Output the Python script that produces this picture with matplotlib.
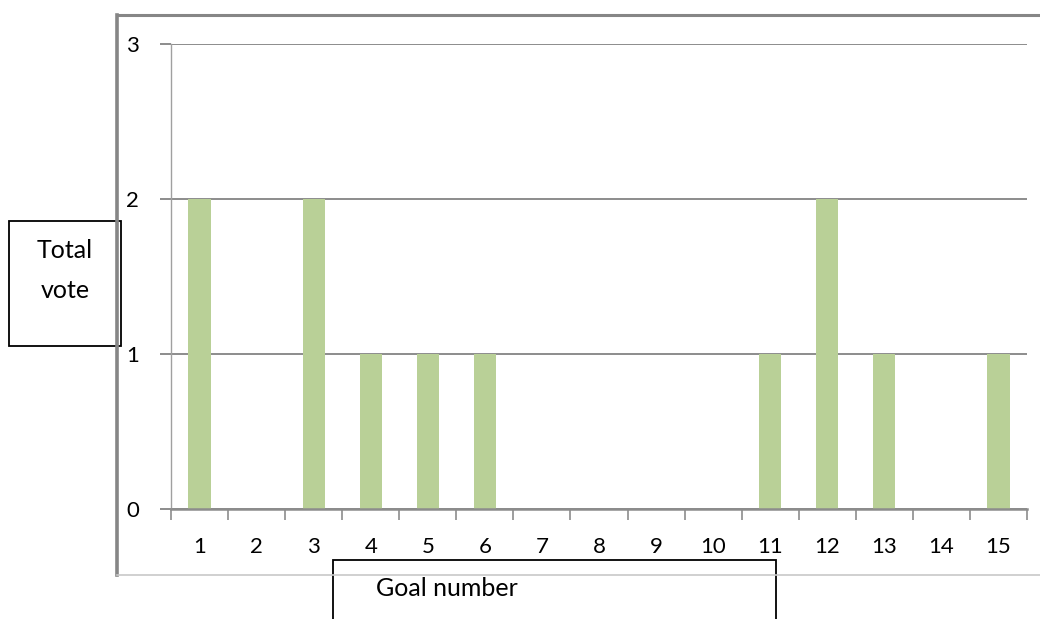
import matplotlib.pyplot as plt
from matplotlib.patches import Rectangle
from matplotlib.lines import Line2D
import numpy as np

goals = list(range(1, 16))
votes = [2, 0, 2, 1, 1, 1, 0, 0, 0, 0, 1, 2, 1, 0, 1]
y_ticks = [0, 1, 2, 3]

plt.rcParams['font.family'] = ['Lato', 'DejaVu Sans']

W, H = 1040, 619
fig = plt.figure(figsize=(W / 100, H / 100), dpi=100)

def fx(px):
    return px / W

def fy(py):
    return 1 - py / H

# outer chart frame
fig.add_artist(Line2D([fx(118), fx(1040)], [fy(15), fy(15)], color='#868686', lw=2.2))
fig.add_artist(Line2D([fx(117), fx(117)], [fy(15), fy(575)], color='#868686', lw=2.6))
fig.add_artist(Line2D([fx(117), fx(1040)], [fy(575), fy(575)], color='#c8c8c8', lw=1.2))

ax = fig.add_axes([fx(171), fy(509), fx(1027) - fx(171), fy(44) - fy(509)])
ax.bar(goals, votes, width=0.39, color='#b9d097', zorder=2)

ax.set_xlim(0.5, 15.5)
ax.set_ylim(0, 3)
ax.set_yticks(y_ticks)
ax.set_yticklabels([str(v) for v in y_ticks], fontsize=16)
ax.yaxis.grid(True, color='#8c8c8c', lw=1.4, zorder=1)

for s in ['top', 'right']:
    ax.spines[s].set_visible(False)
ax.spines['left'].set_color('#a0a0a0')
ax.spines['left'].set_linewidth(1.0)
ax.spines['bottom'].set_color('#8c8c8c')
ax.spines['bottom'].set_linewidth(1.8)

# y ticks extend left of the axis
ax.tick_params(axis='y', length=8, width=1.4, color='#8c8c8c', pad=15)

# x ticks at category boundaries, labels centred on each category
ax.set_xticks(np.arange(0.5, 16, 1))
ax.set_xticklabels([])
ax.tick_params(axis='x', which='major', length=8, width=1.2, color='#8c8c8c')
ax.set_xticks(goals, minor=True)
ax.set_xticklabels([str(g) for g in goals], minor=True, fontsize=16)
ax.tick_params(axis='x', which='minor', length=0, pad=20)

# axis title boxes
fig.add_artist(Rectangle((fx(9), fy(346)), fx(121) - fx(9), fy(221) - fy(346),
                         fill=False, edgecolor='black', lw=1.3))
fig.text(fx(65), fy(250), 'Total', ha='center', va='center', fontsize=18)
fig.text(fx(65), fy(291), 'vote', ha='center', va='center', fontsize=18)

fig.add_artist(Rectangle((fx(333), fy(640)), fx(776) - fx(333), fy(560) - fy(640),
                         fill=True, facecolor='white', edgecolor='black', lw=1.3))
fig.text(fx(447), fy(589), 'Goal number', ha='center', va='center', fontsize=18)

fig.savefig('out.png', dpi=100)
